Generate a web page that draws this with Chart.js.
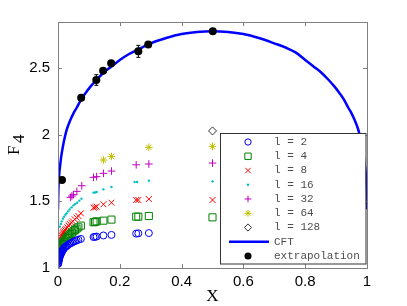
<!DOCTYPE html>
<html lang="en">
<head>
<meta charset="UTF-8">
<title>F4 vs X</title>
<script src="https://cdn.jsdelivr.net/npm/chart.js"></script>
<style>
    body{
        margin: 0;
        background: #ffffff;
    }
</style>
</head>
<body>
<canvas id="grafik" width="407" height="306"></canvas>

<script>
    // data
    const l2X = [0.0003,0.0006,0.001,0.0015,0.002,0.003,0.004,0.005,0.0065,0.008,0.0095,0.011,0.013,0.015,0.017,0.019,0.022,0.025,0.028,0.032,0.036,0.04,0.045,0.05,0.055,0.06,0.066,0.074,0.115,0.12,0.125,0.147,0.173,0.253,0.26,0.294]
    const l2Y = [1.03,1.035,1.04,1.05,1.055,1.065,1.075,1.08,1.09,1.10,1.105,1.115,1.125,1.13,1.14,1.145,1.155,1.16,1.165,1.172,1.18,1.185,1.19,1.197,1.202,1.207,1.212,1.218,1.232,1.234,1.236,1.244,1.248,1.258,1.26,1.262]

    const l4X = [0.0005,0.001,0.0015,0.002,0.003,0.004,0.005,0.0065,0.008,0.0095,0.011,0.013,0.015,0.017,0.019,0.022,0.025,0.028,0.032,0.036,0.04,0.045,0.05,0.055,0.06,0.066,0.074,0.115,0.12,0.125,0.147,0.173,0.253,0.26,0.294,0.5]
    const l4Y = [1.06,1.07,1.08,1.09,1.10,1.11,1.12,1.13,1.14,1.15,1.16,1.17,1.18,1.19,1.195,1.205,1.215,1.225,1.235,1.245,1.255,1.265,1.275,1.285,1.295,1.305,1.318,1.343,1.346,1.35,1.355,1.363,1.385,1.385,1.39,1.38]

    const l8X = [0.0008,0.0015,0.0025,0.0035,0.005,0.0065,0.008,0.01,0.012,0.014,0.016,0.018,0.02,0.023,0.026,0.03,0.034,0.038,0.043,0.048,0.054,0.06,0.066,0.074,0.115,0.12,0.125,0.147,0.173,0.253,0.26,0.294,0.5]
    const l8Y = [1.13,1.15,1.17,1.18,1.195,1.205,1.215,1.23,1.24,1.25,1.26,1.268,1.275,1.285,1.295,1.305,1.318,1.33,1.34,1.35,1.365,1.378,1.39,1.41,1.452,1.455,1.46,1.478,1.49,1.51,1.51,1.517,1.51]

    const l16X = [0.006,0.009,0.012,0.016,0.02,0.024,0.028,0.033,0.038,0.044,0.05,0.056,0.062,0.069,0.076,0.115,0.12,0.125,0.147,0.173,0.248,0.256,0.294,0.5]
    const l16Y = [1.31,1.33,1.35,1.37,1.385,1.40,1.41,1.425,1.44,1.455,1.47,1.48,1.49,1.505,1.52,1.565,1.567,1.57,1.59,1.607,1.645,1.645,1.655,1.65]

    const l32X = [0.040,0.045,0.05,0.061,0.077,0.115,0.125,0.147,0.173,0.253,0.294,0.5]
    const l32Y = [1.53,1.54,1.55,1.575,1.617,1.68,1.685,1.71,1.727,1.774,1.78,1.787]

    const l64X = [0.147,0.173,0.294,0.5]
    const l64Y = [1.81,1.837,1.905,1.912]

    const l128X = [0.5]
    const l128Y = [2.028]

    const cftX = [0,0.0005,0.001,0.002,0.003,0.005,0.007,0.01,0.015,0.02,0.025,0.03,0.04,0.05,0.06,0.075,0.09,0.105,0.124,0.15,0.172,0.2,0.23,0.26,0.3,0.35,0.4,0.45,0.5,
                  0.55,0.6,0.65,0.7,0.74,0.77,0.8,0.828,0.85,0.876,0.895,0.91,0.925,0.94,0.95,0.96,0.97,0.975,0.98,0.985,0.99,0.993,0.995,0.997,0.998,0.999,0.9995,1]
    const cftY = [1.44,1.52,1.57,1.63,1.67,1.73,1.77,1.83,1.90,1.96,2.01,2.05,2.11,2.16,2.20,2.265,2.315,2.36,2.41,2.47,2.51,2.56,2.605,2.64,2.685,2.725,2.755,2.77,2.775,
                  2.77,2.755,2.725,2.685,2.65,2.615,2.56,2.51,2.47,2.41,2.36,2.315,2.265,2.20,2.16,2.11,2.05,2.01,1.96,1.90,1.83,1.77,1.73,1.67,1.63,1.57,1.52,1.44]

    const extX = [0.013,0.075,0.124,0.146,0.172,0.26,0.292,0.501]
    const extY = [1.66,2.276,2.41,2.48,2.535,2.625,2.677,2.775]
    const extErr = [0,0.01,0.04,0.01,0.01,0.045,0.01,0.005]

    const xTicks = [0,0.2,0.4,0.6,0.8,1]
    const yTicks = [1,1.5,2,2.5]

    const legendLabels = ["l = 2","l = 4","l = 8","l = 16","l = 32","l = 64","l = 128","CFT","extrapolation"]

    function pts(xs, ys){
        return xs.map((x, i) => ({x: x, y: ys[i]}))
    }

    function drawMarker(ctx, style, x, y, r, color){
        ctx.save()
        ctx.strokeStyle = color
        ctx.fillStyle = color
        ctx.lineWidth = 1
        ctx.beginPath()
        if(style == "circle"){
            ctx.arc(x, y, r, 0, Math.PI*2)
            ctx.stroke()
        } else if(style == "rect"){
            const s = r*Math.SQRT1_2
            ctx.rect(x-s, y-s, 2*s, 2*s)
            ctx.stroke()
        } else if(style == "crossRot"){
            const s = r*Math.SQRT1_2
            ctx.moveTo(x-s, y-s); ctx.lineTo(x+s, y+s)
            ctx.moveTo(x+s, y-s); ctx.lineTo(x-s, y+s)
            ctx.stroke()
        } else if(style == "cross"){
            ctx.moveTo(x-r, y); ctx.lineTo(x+r, y)
            ctx.moveTo(x, y-r); ctx.lineTo(x, y+r)
            ctx.stroke()
        } else if(style == "star"){
            const s = r*Math.SQRT1_2
            ctx.moveTo(x-r, y); ctx.lineTo(x+r, y)
            ctx.moveTo(x, y-r); ctx.lineTo(x, y+r)
            ctx.moveTo(x-s, y-s); ctx.lineTo(x+s, y+s)
            ctx.moveTo(x+s, y-s); ctx.lineTo(x-s, y+s)
            ctx.stroke()
        } else if(style == "rectRot"){
            ctx.moveTo(x, y-r); ctx.lineTo(x+r, y); ctx.lineTo(x, y+r); ctx.lineTo(x-r, y)
            ctx.closePath()
            ctx.stroke()
        } else if(style == "dot" || style == "filled"){
            ctx.arc(x, y, r, 0, Math.PI*2)
            ctx.fill()
        }
        ctx.restore()
    }

    const markerSets = [
        {style: "circle",   r: 3.5, color: "#0000ff", chart: "circle",   radius: 3.5},
        {style: "rect",     r: 5,   color: "#008000", chart: "rect",     radius: 5},
        {style: "crossRot", r: 4.2, color: "#ff0000", chart: "crossRot", radius: 4.2},
        {style: "dot",      r: 1.2, color: "#00bfbf", chart: "circle",   radius: 1.2},
        {style: "cross",    r: 3.8, color: "#bf00bf", chart: "cross",    radius: 3.8},
        {style: "star",     r: 3.8, color: "#bfbf00", chart: "star",     radius: 3.8},
        {style: "rectRot",  r: 4,   color: "#333333", chart: "rectRot",  radius: 4}
    ]
    const seriesData = [pts(l2X,l2Y), pts(l4X,l4Y), pts(l8X,l8Y), pts(l16X,l16Y), pts(l32X,l32Y), pts(l64X,l64Y), pts(l128X,l128Y)]

    const datasets = seriesData.map((d, i) => {
        const m = markerSets[i]
        return {
            label: legendLabels[i],
            data: d,
            pointStyle: m.chart,
            pointRadius: m.radius,
            borderColor: m.color,
            backgroundColor: m.style == "dot" ? m.color : "rgba(0,0,0,0)",
            borderWidth: m.style == "dot" ? 0 : 1,
            showLine: false,
            order: 3 + i
        }
    })
    datasets.push({
        label: legendLabels[7],
        data: pts(cftX, cftY),
        showLine: true,
        borderColor: "#0000ff",
        borderWidth: 2.5,
        pointRadius: 0,
        cubicInterpolationMode: "monotone",
        order: 2
    })
    datasets.push({
        label: legendLabels[8],
        data: pts(extX, extY),
        showLine: false,
        pointStyle: "circle",
        pointRadius: 4,
        backgroundColor: "#000000",
        borderColor: "#000000",
        borderWidth: 0,
        order: 1
    })

    const framePlugin = {
        id: "frame",
        afterDatasetsDraw(chart){
            const ctx = chart.ctx
            const xs = chart.scales.x, ys = chart.scales.y
            ctx.save()
            ctx.strokeStyle = "#000000"
            ctx.lineWidth = 1
            extX.forEach((x, i) => {
                if(!extErr[i]) return
                const px = xs.getPixelForValue(x)
                const y1 = ys.getPixelForValue(extY[i] - extErr[i])
                const y2 = ys.getPixelForValue(extY[i] + extErr[i])
                ctx.beginPath()
                ctx.moveTo(px, y1); ctx.lineTo(px, y2)
                ctx.moveTo(px-2, y1); ctx.lineTo(px+2, y1)
                ctx.moveTo(px-2, y2); ctx.lineTo(px+2, y2)
                ctx.stroke()
            })
            ctx.restore()
        },
        afterDraw(chart){
            const ctx = chart.ctx
            const a = chart.chartArea
            const xs = chart.scales.x, ys = chart.scales.y
            ctx.save()
            // axes box with inward ticks
            ctx.strokeStyle = "#808080"
            ctx.lineWidth = 1
            ctx.strokeRect(Math.round(a.left)+0.5, Math.round(a.top)+0.5, Math.round(a.right-a.left), Math.round(a.bottom-a.top))
            ctx.beginPath()
            xTicks.forEach(v => {
                const px = Math.round(xs.getPixelForValue(v)) + 0.5
                ctx.moveTo(px, a.bottom); ctx.lineTo(px, a.bottom-4)
                ctx.moveTo(px, a.top); ctx.lineTo(px, a.top+4)
            })
            yTicks.forEach(v => {
                const py = Math.round(ys.getPixelForValue(v)) + 0.5
                ctx.moveTo(a.left, py); ctx.lineTo(a.left+4, py)
                ctx.moveTo(a.right, py); ctx.lineTo(a.right-4, py)
            })
            ctx.stroke()

            // axis titles
            ctx.fillStyle = "#000000"
            ctx.font = "17px 'Liberation Serif'"
            ctx.textAlign = "center"
            ctx.textBaseline = "middle"
            ctx.fillText("X", 212.5, 297)
            ctx.translate(19, 155)
            ctx.rotate(-Math.PI/2)
            ctx.textAlign = "left"
            ctx.textBaseline = "alphabetic"
            ctx.fillText("F", 0, 0)
            ctx.fillText("4", 12, 5)
            ctx.restore()

            // legend
            ctx.save()
            const bx = 220, by = 133, bw = 145.5, bh = 130.5
            ctx.fillStyle = "#ffffff"
            ctx.fillRect(bx, by, bw, bh)
            ctx.strokeStyle = "#333333"
            ctx.lineWidth = 1
            ctx.strokeRect(bx+0.5, by+0.5, bw, bh)
            ctx.font = "11px 'Liberation Mono'"
            ctx.textAlign = "left"
            ctx.textBaseline = "middle"
            ctx.fillStyle = "#4d4d4d"
            legendLabels.forEach((lab, i) => {
                const ry = 142 + i*14.25
                if(i < 7){
                    const m = markerSets[i]
                    drawMarker(ctx, m.style, 248, ry, m.style == "dot" ? 1.2 : m.r*0.9, m.color)
                } else if(i == 7){
                    ctx.save()
                    ctx.strokeStyle = "#0000ff"
                    ctx.lineWidth = 2.5
                    ctx.beginPath()
                    ctx.moveTo(229, ry); ctx.lineTo(269, ry)
                    ctx.stroke()
                    ctx.restore()
                } else {
                    drawMarker(ctx, "filled", 248, ry, 3.5, "#000000")
                }
                ctx.fillText(lab, 274, ry)
            })
            ctx.restore()
        }
    }

    const tickFont = {family: "'Liberation Sans'", size: 15}

    new Chart(document.getElementById("grafik"), {
        type: "scatter",
        data: {datasets: datasets},
        options: {
            responsive: false,
            animation: false,
            devicePixelRatio: 1,
            layout: {padding: {left: 0, top: 22, right: 40, bottom: 0}},
            plugins: {legend: {display: false}, tooltip: {enabled: false}},
            scales: {
                x: {
                    type: "linear", min: 0, max: 1,
                    afterBuildTicks: s => { s.ticks = xTicks.map(v => ({value: v})) },
                    afterFit: s => { s.height = 38 },
                    grid: {display: false, drawTicks: false},
                    border: {display: false},
                    ticks: {font: tickFont, color: "#000000", padding: 5, maxRotation: 0,
                            callback: v => String(+v.toFixed(1))}
                },
                y: {
                    type: "linear", min: 1, max: 2.845,
                    afterBuildTicks: s => { s.ticks = yTicks.map(v => ({value: v})) },
                    afterFit: s => { s.width = 58 },
                    grid: {display: false, drawTicks: false},
                    border: {display: false},
                    ticks: {font: tickFont, color: "#000000", padding: 8,
                            callback: v => String(+v.toFixed(1))}
                }
            }
        },
        plugins: [framePlugin]
    })
</script>
</body>
</html>
